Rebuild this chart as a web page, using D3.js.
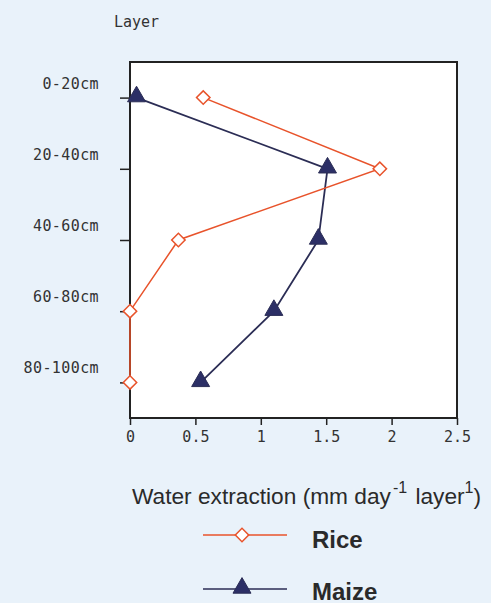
<!DOCTYPE html>
<html><head><meta charset="utf-8">
<script src="https://cdn.jsdelivr.net/npm/d3@7/dist/d3.min.js"></script>
<style>
html,body{margin:0;padding:0;background:#e9f2fa;}
svg{display:block;}
</style></head>
<body>
<svg id="chart" width="491" height="603"></svg>
<script>
const layers = ["0-20cm","20-40cm","40-60cm","60-80cm","80-100cm"];
const riceValues = [0.56, 1.91, 0.37, 0, 0];
const maizeValues = [0.05, 1.51, 1.44, 1.10, 0.54];
const xTicks = [0, 0.5, 1, 1.5, 2, 2.5];
const xTickLabels = ["0","0.5","1","1.5","2","2.5"];

const svg = d3.select("#chart");
const M = {left:130, top:62, right:457, bottom:418};
const riceColor = "#e8532b", maizeColor = "#2b2d55", markFill = "#2c2f66";
const mono = "'DejaVu Sans Mono', monospace";
const sans = "'Liberation Sans', Arial, sans-serif";

const x = d3.scaleLinear().domain([0,2.5]).range([M.left, M.right]);
const y = d3.scalePoint().domain(layers).range([M.top, M.bottom]).padding(0.5);

// plot area
svg.append("rect").attr("x",M.left).attr("y",M.top)
  .attr("width",M.right-M.left).attr("height",M.bottom-M.top)
  .attr("fill","#ffffff").attr("stroke","#222").attr("stroke-width",2);

// y axis
const yAxis = svg.append("g").attr("transform",`translate(${M.left},0)`)
  .call(d3.axisLeft(y).tickSize(10).tickPadding(0).tickFormat(""));
yAxis.select(".domain").remove();
yAxis.selectAll(".tick line").attr("stroke","#222").attr("stroke-width",1.5);
layers.forEach(l=>{
  svg.append("text").attr("x",99).attr("y",y(l)-9)
    .attr("text-anchor","end").attr("font-family",mono).attr("font-size",15)
    .attr("letter-spacing",0.4).attr("fill","#333").text(l);
});
svg.append("text").attr("x",114).attr("y",27)
  .attr("font-family",mono).attr("font-size",15).attr("fill","#333").text("Layer");

// x axis
const xAxis = svg.append("g").attr("transform",`translate(0,${M.bottom})`)
  .call(d3.axisBottom(x).tickValues(xTicks).tickSize(7).tickPadding(6)
    .tickFormat((d,i)=>xTickLabels[i]));
xAxis.select(".domain").remove();
xAxis.selectAll(".tick line").attr("stroke","#222").attr("stroke-width",1.5);
xAxis.selectAll(".tick text").attr("font-family",mono).attr("font-size",15)
  .attr("fill","#333");

// x title
const t = svg.append("text").attr("x",132).attr("y",504)
  .attr("font-family",sans).attr("font-size",22.7).attr("fill","#2a2a2a");
t.append("tspan").text("Water extraction (mm day");
t.append("tspan").attr("font-size",16).attr("dx",2).attr("dy",-11).text("-1");
t.append("tspan").attr("dx",2).attr("dy",11).text(" layer");
t.append("tspan").attr("font-size",16).attr("dy",-11).text("1");
t.append("tspan").attr("dy",11).text(")");

// lines
const line = d3.line().x(d=>x(d.v)).y(d=>y(d.l));
const riceData = layers.map((l,i)=>({l, v:riceValues[i]}));
const maizeData = layers.map((l,i)=>({l, v:maizeValues[i]}));

svg.append("path").datum(maizeData).attr("d",line).attr("fill","none")
  .attr("stroke",maizeColor).attr("stroke-width",1.8);
svg.append("path").datum(riceData).attr("d",line).attr("fill","none")
  .attr("stroke",riceColor).attr("stroke-width",1.5);

const tri = d3.symbol().type(d3.symbolTriangle).size(140);
const dia = d3.symbol().type(d3.symbolSquare).size(90);

svg.selectAll(".m").data(maizeData).join("path")
  .attr("transform",d=>`translate(${x(d.v)},${y(d.l)-1})`).attr("d",tri)
  .attr("fill",markFill).attr("stroke",maizeColor).attr("stroke-width",1);
svg.selectAll(".r").data(riceData).join("path")
  .attr("transform",d=>`translate(${x(d.v)},${y(d.l)}) rotate(45)`).attr("d",dia)
  .attr("fill","#fff").attr("stroke",riceColor).attr("stroke-width",1.5);

// legend
const legend = [
  {name:"Rice", y:535, color:riceColor, sym:"r", ty:548},
  {name:"Maize", y:589, color:maizeColor, sym:"m", ty:600}
];
legend.forEach(L=>{
  svg.append("line").attr("x1",203).attr("x2",287).attr("y1",L.y).attr("y2",L.y)
    .attr("stroke",L.color).attr("stroke-width",1.5);
  if(L.sym==="r"){
    svg.append("path").attr("transform",`translate(242,${L.y}) rotate(45)`).attr("d",dia)
      .attr("fill","#fff").attr("stroke",riceColor).attr("stroke-width",1.5);
  } else {
    svg.append("path").attr("transform",`translate(242,${L.y-1})`).attr("d",tri)
      .attr("fill",markFill).attr("stroke",maizeColor);
  }
  svg.append("text").attr("x",312).attr("y",L.ty)
    .attr("font-family",sans).attr("font-weight","bold")
    .attr("font-size",24).attr("fill","#2a2a2a").text(L.name);
});
</script>
</body></html>
